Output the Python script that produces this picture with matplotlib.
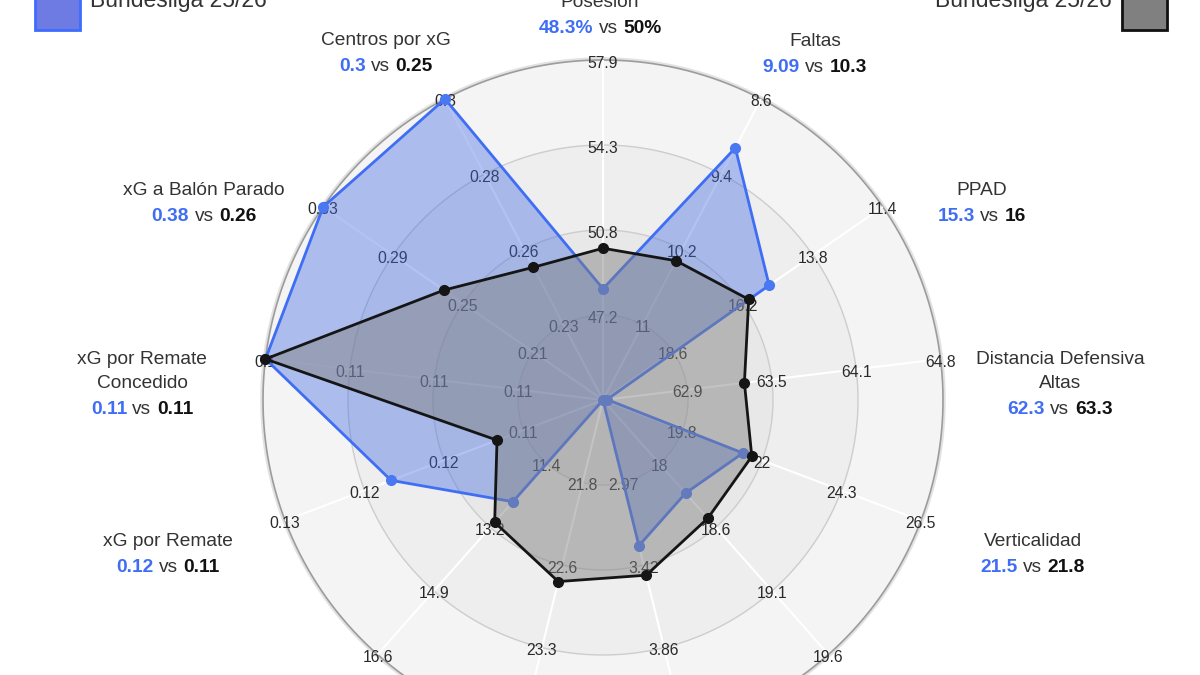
import numpy as np
import matplotlib.pyplot as plt
from matplotlib.patches import Rectangle
from matplotlib.transforms import offset_copy

plt.rcParams['font.family'] = ['Liberation Sans', 'DejaVu Sans']

# --- data (clockwise from the top) ---
categories = ['Posesión', 'Faltas', 'PPAD', 'Distancia Defensiva\nAltas', 'Verticalidad',
              'Pases Largos', 'Remates', 'Toques en Área', 'Duelos Ganados',
              'xG por Remate', 'xG por Remate\nConcedido', 'xG a Balón Parado', 'Centros por xG']

team_values = [48.3, 9.12, 15.3, 62.3, 21.5, 18.25, 3.31, 21.0, 12.44, 0.120, 0.105, 0.38, 0.30]
league_values = [50.0, 10.32, 16.0, 63.33, 21.75, 18.46, 3.47, 22.7, 13.0, 0.109, 0.105, 0.261, 0.248]

team_text = ['48.3%', '9.09', '15.3', '62.3', '21.5', '18.3', '3.31', '21', '12.4', '0.12', '0.11', '0.38', '0.3']
league_text = ['50%', '10.3', '16', '63.3', '21.8', '18.5', '3.47', '22.7', '13', '0.11', '0.11', '0.26', '0.25']

# value at the centre and at the outer ring of every axis (some axes are reversed)
scale_min = [43.63, 11.8, 21.0, 62.27, 17.57, 17.47, 2.52, 21.05, 9.67, 0.098, 0.1145, 0.17, 0.207]
scale_max = [57.9, 8.6, 11.4, 64.8, 26.5, 19.6, 4.31, 24.05, 16.6, 0.131, 0.105, 0.33, 0.30]

tick_labels = [
    ['47.2', '50.8', '54.3', '57.9'],
    ['11', '10.2', '9.4', '8.6'],
    ['18.6', '16.2', '13.8', '11.4'],
    ['62.9', '63.5', '64.1', '64.8'],
    ['19.8', '22', '24.3', '26.5'],
    ['18', '18.6', '19.1', '19.6'],
    ['2.97', '3.42', '3.86', '4.31'],
    ['21.8', '22.6', '23.3', '24.1'],
    ['11.4', '13.2', '14.9', '16.6'],
    ['0.11', '0.12', '0.12', '0.13'],
    ['0.11', '0.11', '0.11', '0.1'],
    ['0.21', '0.25', '0.29', '0.33'],
    ['0.23', '0.26', '0.28', '0.3'],
]

legend_left = 'Bundesliga 25/26'
legend_right = 'Bundesliga 25/26'

# --- layout ---
W, H, DPI = 1200, 675, 100
cx, cy, R = 603, 400, 340
FS = 13.8
BLUE = '#3f6ef5'
TEXT = '#333333'

# label anchors: (x centre, baseline of value line) in pixels from top-left
label_pos = [(600, 33), (815, 72), (982, 221), (1060, 414), (1033, 572),
             (905, 760), (700, 800), (505, 800), (300, 760),
             (168, 572), (142, 414), (204, 221), (386, 71)]

fig = plt.figure(figsize=(W / DPI, H / DPI), dpi=DPI)
ax = fig.add_axes([(cx - R) / W, (H - cy - R) / H, 2 * R / W, 2 * R / H], projection='polar')
ax.set_theta_zero_location('N')
ax.set_theta_direction(-1)
ax.set_ylim(0, 1)
ax.axis('off')

n = len(categories)
theta = np.arange(n) * 2 * np.pi / n
circ = np.linspace(0, 2 * np.pi, 500)

# background bands and rings
band_colors = ['#e3e3e3', '#e8e8e8', '#eeeeee', '#f4f4f4']
ax.plot(circ, np.full_like(circ, 1.0), color='#e2e2e2', lw=4, zorder=0, clip_on=False)
for k in [4, 3, 2, 1]:
    ax.fill(circ, np.full_like(circ, k / 4), color=band_colors[k - 1], lw=0, zorder=0)
for k in [1, 2, 3]:
    ax.plot(circ, np.full_like(circ, k / 4), color='#cdcdcd', lw=1, zorder=1)
ax.plot(circ, np.full_like(circ, 1.0), color='#9c9c9c', lw=1.2, zorder=1, clip_on=False)
for t in theta:
    ax.plot([t, t], [0, 1], color='white', lw=1.5, zorder=1)

# tick labels on every spoke (nudged a little down, as in the original)
tick_tr = offset_copy(ax.transData, fig=fig, x=0, y=-3, units='dots')
for i in range(n):
    for k, lab in enumerate(tick_labels[i]):
        ax.text(theta[i], (k + 1) / 4, lab, ha='center', va='center', fontsize=11.3,
                color='#2a2a2a', zorder=2, clip_on=False, transform=tick_tr)


def to_radius(values):
    v = np.array(values, dtype=float)
    r = (v - np.array(scale_min)) / (np.array(scale_max) - np.array(scale_min))
    return np.clip(r, 0, 1)


t_closed = np.append(theta, theta[0])
r_team = to_radius(team_values)
r_league = to_radius(league_values)

ax.fill(t_closed, np.append(r_team, r_team[0]), color=(0.255, 0.41, 0.88, 0.4), lw=0, zorder=3)
ax.plot(t_closed, np.append(r_team, r_team[0]), color=BLUE, lw=2, zorder=3, clip_on=False)
ax.plot(theta, r_team, 'o', color='#4a78f2', ms=7, zorder=3, clip_on=False)

ax.fill(t_closed, np.append(r_league, r_league[0]), color=(0.5, 0.5, 0.5, 0.47), lw=0, zorder=4)
ax.plot(t_closed, np.append(r_league, r_league[0]), color='#151515', lw=2, zorder=4, clip_on=False)
ax.plot(theta, r_league, 'o', color='#151515', ms=7, zorder=4, clip_on=False)

# point labels
renderer = fig.canvas.get_renderer()
space = 0.278 * FS * DPI / 72
for i in range(n):
    xc, yb = label_pos[i]
    lines = categories[i].split('\n')
    for j, line in enumerate(reversed(lines)):
        fig.text(xc / W, 1 - (yb - 26 - 23.5 * j) / H, line, ha='center', va='baseline',
                 fontsize=FS, color=TEXT)
    parts = [(team_text[i], BLUE, 'bold'), ('vs', TEXT, 'normal'), (league_text[i], '#111111', 'bold')]
    texts = [fig.text(0, 1 - yb / H, s, color=c, fontweight=w, fontsize=FS, va='baseline')
             for s, c, w in parts]
    widths = [t.get_window_extent(renderer).width for t in texts]
    x = xc - (sum(widths) + 2 * space) / 2
    for t, w in zip(texts, widths):
        t.set_x(x / W)
        x += w + space

# legend
fig.patches.append(Rectangle((35 / W, 1 - 30 / H), 45 / W, 46 / H, transform=fig.transFigure,
                             facecolor='#6e7be3', edgecolor='#3d6cff', lw=2))
fig.text(90 / W, 1 - 7 / H, legend_left, fontsize=16.5, color=TEXT, va='baseline')
fig.patches.append(Rectangle((1122 / W, 1 - 30 / H), 45 / W, 46 / H, transform=fig.transFigure,
                             facecolor='#808080', edgecolor='#111111', lw=2))
fig.text(1112 / W, 1 - 7 / H, legend_right, fontsize=16.5, color=TEXT, va='baseline', ha='right')

fig.savefig('out.png', dpi=DPI)
